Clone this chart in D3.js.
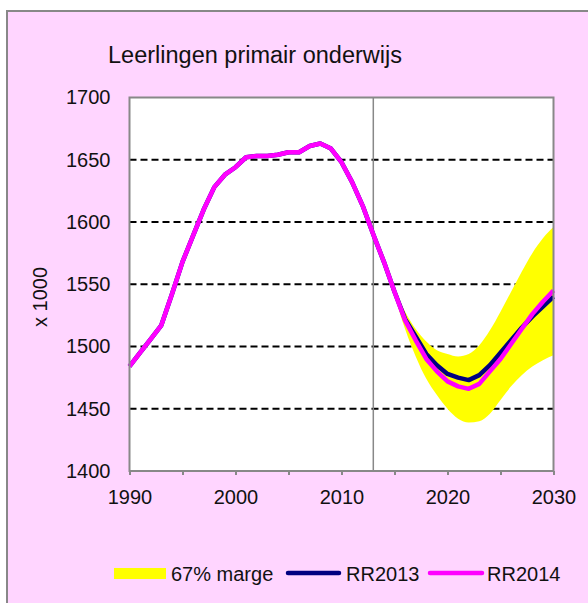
<!DOCTYPE html>
<html>
<head>
<meta charset="utf-8">
<script src="https://cdn.jsdelivr.net/npm/d3@7"></script>
<style>
  body { margin: 0; background: #fff; }
  text { font-family: "Liberation Sans", Arial, sans-serif; fill: #111; }
</style>
</head>
<body>
<script>
var width = 588, height = 603

// data
var years = d3.range(1990, 2031)
var rr2014 = [1484, 1495, 1506, 1517, 1542, 1568, 1589, 1610, 1628, 1638,
  1644, 1652, 1653, 1653, 1654, 1656, 1656, 1661, 1663, 1659,
  1648, 1632, 1613, 1590, 1568, 1544, 1521, 1505, 1490, 1480,
  1472, 1468, 1466, 1470, 1480, 1490, 1502, 1514, 1526, 1536, 1545]
var rr2013 = [1484, 1495, 1506, 1517, 1542, 1568, 1589, 1610, 1628, 1638,
  1644, 1652, 1653, 1653, 1654, 1656, 1656, 1661, 1663, 1659,
  1648, 1632, 1613, 1590, 1568, 1544, 1522, 1508, 1494, 1485,
  1478, 1475, 1473, 1477, 1485, 1495, 1505, 1515, 1524, 1532, 1540]
var bandYears = d3.range(2014, 2031)
var bandUpper = [1568, 1546, 1528, 1514, 1504, 1497, 1494, 1492, 1494, 1501,
  1513, 1528, 1544, 1560, 1575, 1587, 1596]
var bandLower = [1568, 1541, 1514, 1492, 1474, 1461, 1450, 1442, 1439, 1440,
  1446, 1457, 1468, 1477, 1484, 1489, 1493]
var yTicks = [1400, 1450, 1500, 1550, 1600, 1650, 1700]
var xTicks = [1990, 2000, 2010, 2020, 2030]
var legendItems = ["67% marge", "RR2013", "RR2014"]

var svg = d3.select("body").append("svg")
    .attr("width", width)
    .attr("height", height)

// outer chart area
svg.append("rect")
    .attr("x", 7).attr("y", 11)
    .attr("width", 600).attr("height", 620)
    .attr("fill", "#ffd5ff")
    .attr("stroke", "#888").attr("stroke-width", 2)

var plotLeft = 129.5, plotRight = 553.5, plotTop = 97.5, plotBottom = 471

var x = d3.scaleLinear().domain([1990, 2030]).range([plotLeft, plotRight])
var y = d3.scaleLinear().domain([1400, 1700]).range([plotBottom, plotTop])

svg.append("rect")
    .attr("x", plotLeft).attr("y", plotTop)
    .attr("width", plotRight - plotLeft).attr("height", plotBottom - plotTop)
    .attr("fill", "#fff")

// dashed gridlines
svg.append("g").selectAll("line")
    .data(yTicks.slice(1, -1))
    .enter().append("line")
    .attr("x1", plotLeft).attr("x2", plotRight)
    .attr("y1", function(d) { return y(d) })
    .attr("y2", function(d) { return y(d) })
    .attr("stroke", "#000")
    .attr("stroke-width", 2)
    .attr("stroke-dasharray", "7,4")

// forecast band
var area = d3.area()
    .x(function(d, i) { return x(bandYears[i]) })
    .y0(function(d, i) { return y(bandLower[i]) })
    .y1(function(d) { return y(d) })
    .curve(d3.curveMonotoneX)

svg.append("path")
    .datum(bandUpper)
    .attr("d", area)
    .attr("fill", "#ffff00")

// vertical line at 2013
svg.append("line")
    .attr("x1", x(2013)).attr("x2", x(2013))
    .attr("y1", plotTop).attr("y2", plotBottom)
    .attr("stroke", "#888").attr("stroke-width", 1.5)

var line = d3.line()
    .x(function(d, i) { return x(years[i]) })
    .y(function(d) { return y(d) })

svg.append("path")
    .datum(rr2013)
    .attr("d", line)
    .attr("fill", "none")
    .attr("stroke", "#000080")
    .attr("stroke-width", 4.5)
    .attr("stroke-linejoin", "round")

svg.append("path")
    .datum(rr2014)
    .attr("d", line)
    .attr("fill", "none")
    .attr("stroke", "#ff00ff")
    .attr("stroke-width", 4.5)
    .attr("stroke-linejoin", "round")

// plot frame
svg.append("rect")
    .attr("x", plotLeft).attr("y", plotTop)
    .attr("width", plotRight - plotLeft).attr("height", plotBottom - plotTop)
    .attr("fill", "none")
    .attr("stroke", "#888").attr("stroke-width", 2)

// axes
var xAxis = d3.axisBottom(x)
    .tickValues(d3.range(1990, 2031, 5))
    .tickSize(4)
    .tickFormat(function(d) { return xTicks.indexOf(d) >= 0 ? d : "" })

var gx = svg.append("g")
    .attr("transform", "translate(0," + plotBottom + ")")
    .call(xAxis)
gx.select(".domain").remove()
gx.selectAll("line").attr("stroke", "#888").attr("stroke-width", 2)
gx.selectAll("text")
    .attr("y", 33)
    .attr("dy", "0")
    .style("font-size", "20px")
    .style("font-family", "Liberation Sans, Arial, sans-serif")
    .attr("fill", "#111")

var yAxis = d3.axisLeft(y)
    .tickValues(yTicks)
    .tickSize(0)
    .tickPadding(19)
    .tickFormat(d3.format("d"))

var gy = svg.append("g")
    .attr("transform", "translate(" + plotLeft + ",0)")
    .call(yAxis)
gy.select(".domain").remove()
gy.selectAll("text")
    .style("font-size", "20px")
    .style("font-family", "Liberation Sans, Arial, sans-serif")
    .attr("fill", "#111")

// y axis title
svg.append("text")
    .attr("transform", "translate(47,297) rotate(-90)")
    .attr("text-anchor", "middle")
    .style("font-size", "20px")
    .text("x 1000")

// title
svg.append("text")
    .attr("x", 255).attr("y", 63)
    .attr("text-anchor", "middle")
    .style("font-size", "23.5px")
    .text("Leerlingen primair onderwijs")

// legend
var lg = svg.append("g")
lg.append("rect")
    .attr("x", 114).attr("y", 568)
    .attr("width", 52).attr("height", 11)
    .attr("fill", "#ffff00")
lg.append("text").attr("x", 171).attr("y", 581)
    .style("font-size", "20px").text(legendItems[0])
lg.append("line")
    .attr("x1", 288).attr("x2", 339).attr("y1", 573).attr("y2", 573)
    .attr("stroke", "#000080").attr("stroke-width", 4.5)
    .attr("stroke-linecap", "round")
lg.append("text").attr("x", 346).attr("y", 581)
    .style("font-size", "20px").text(legendItems[1])
lg.append("line")
    .attr("x1", 430).attr("x2", 482).attr("y1", 573).attr("y2", 573)
    .attr("stroke", "#ff00ff").attr("stroke-width", 4.5)
    .attr("stroke-linecap", "round")
lg.append("text").attr("x", 487).attr("y", 581)
    .style("font-size", "20px").text(legendItems[2])
</script>
</body>
</html>
